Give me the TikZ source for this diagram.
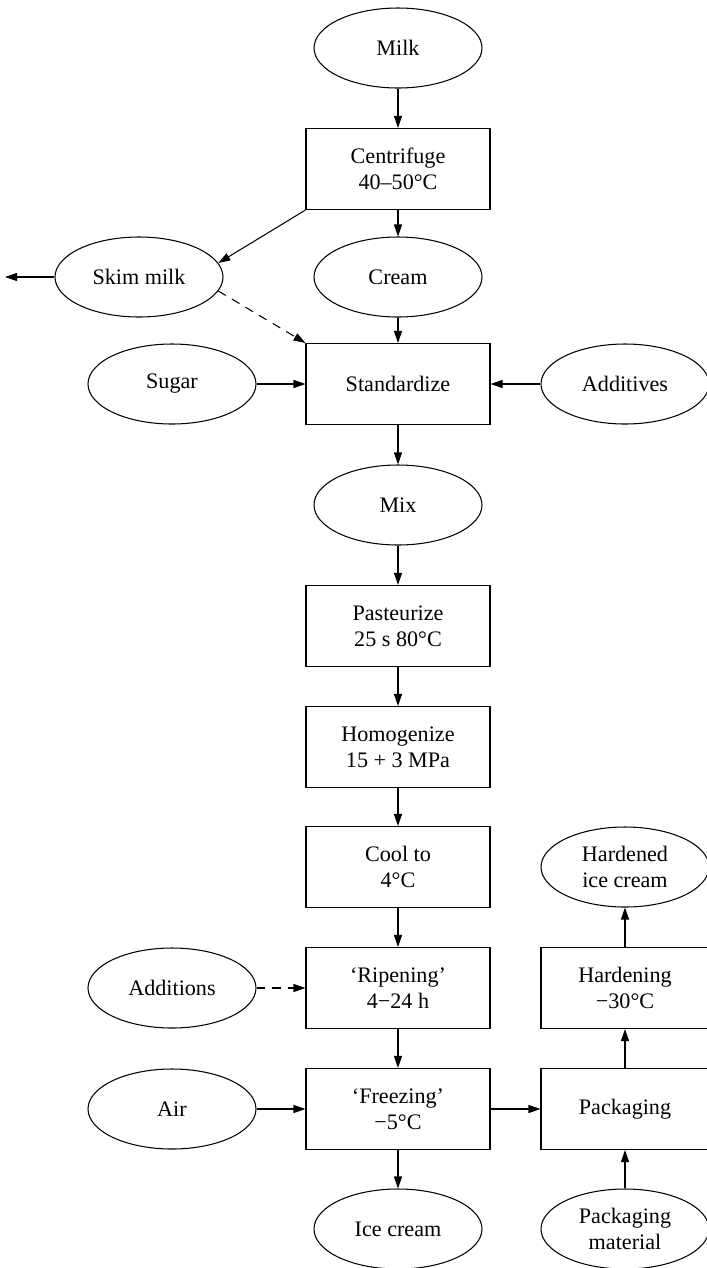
\documentclass[tikz,border=0pt]{standalone}
\usepackage{fontspec}
\setmainfont{Liberation Serif}
\usetikzlibrary{shapes.geometric, arrows.meta}

\begin{document}
\begin{tikzpicture}[
    font=\fontsize{12.6}{15}\selectfont,
    every path/.style={line width=0.6pt},
    stage/.style={draw, rectangle, minimum width=3.68cm, minimum height=1.62cm, align=center, inner sep=2pt},
    sidestage/.style={stage, minimum width=3.36cm},
    stuff/.style={draw, ellipse, minimum width=3.36cm, minimum height=1.6cm, align=center, inner sep=1pt},
    flow/.style={-{Triangle[length=2.4mm,width=1.6mm]}},
    option/.style={flow, dash pattern=on 5pt off 4pt}
]

\useasboundingbox (0,0) rectangle (14.14,-25.36);

% Main line
\node[stuff] (milk) at (7.96,-0.96) {Milk};
\node[stage] (centrifuge) at (7.96,-3.38) {Centrifuge\\40–50°C};
\node[stuff] (cream) at (7.96,-5.54) {Cream};
\node[stage] (standardize) at (7.96,-7.68) {Standardize};
\node[stuff] (mix) at (7.96,-10.1) {Mix};
\node[stage] (pasteurize) at (7.96,-12.52) {Pasteurize\\25 s 80°C};
\node[stage] (homogenize) at (7.96,-14.94) {Homogenize\\15 + 3 MPa};
\node[stage] (cool) at (7.96,-17.34) {Cool to\\4°C};
\node[stage] (ripening) at (7.96,-19.76) {‘Ripening’\\4−24 h};
\node[stage] (freezing) at (7.96,-22.18) {‘Freezing’\\−5°C};
\node[stuff] (icecream) at (7.96,-24.58) {Ice cream};

% Inputs on the left
\node[stuff] (skim) at (2.78,-5.54) {Skim milk};
\node[stuff] (sugar) at (3.44,-7.68) {Sugar};
\node[stuff] (additions) at (3.44,-19.76) {Additions};
\node[stuff] (air) at (3.44,-22.18) {Air};
\coordinate (skimout) at (0.1,-5.54);

% Right column
\node[stuff] (additives) at (12.5,-7.68) {Additives};
\node[stuff] (hardened) at (12.5,-17.34) {Hardened\\ice cream};
\node[sidestage] (hardening) at (12.5,-19.76) {Hardening\\−30°C};
\node[sidestage] (packaging) at (12.5,-22.18) {Packaging};
\node[stuff] (packmat) at (12.5,-24.58) {Packaging\\material};

% Connections
\draw[flow] (milk) -- (centrifuge);
\draw[flow] (centrifuge) -- (cream);
\draw[flow] (centrifuge.south west) -- (skim.10);
\draw[flow] (skim.west) -- (skimout);
\draw[option] (skim.-10) -- (standardize.north west);
\draw[flow] (cream) -- (standardize);
\draw[flow] (sugar) -- (standardize);
\draw[flow] (additives) -- (standardize);
\draw[flow] (standardize) -- (mix);
\draw[flow] (mix) -- (pasteurize);
\draw[flow] (pasteurize) -- (homogenize);
\draw[flow] (homogenize) -- (cool);
\draw[flow] (cool) -- (ripening);
\draw[option] (additions) -- (ripening);
\draw[flow] (ripening) -- (freezing);
\draw[flow] (air) -- (freezing);
\draw[flow] (freezing) -- (icecream);
\draw[flow] (freezing) -- (packaging);
\draw[flow] (packmat) -- (packaging);
\draw[flow] (packaging) -- (hardening);
\draw[flow] (hardening) -- (hardened);

\end{tikzpicture}
\end{document}
